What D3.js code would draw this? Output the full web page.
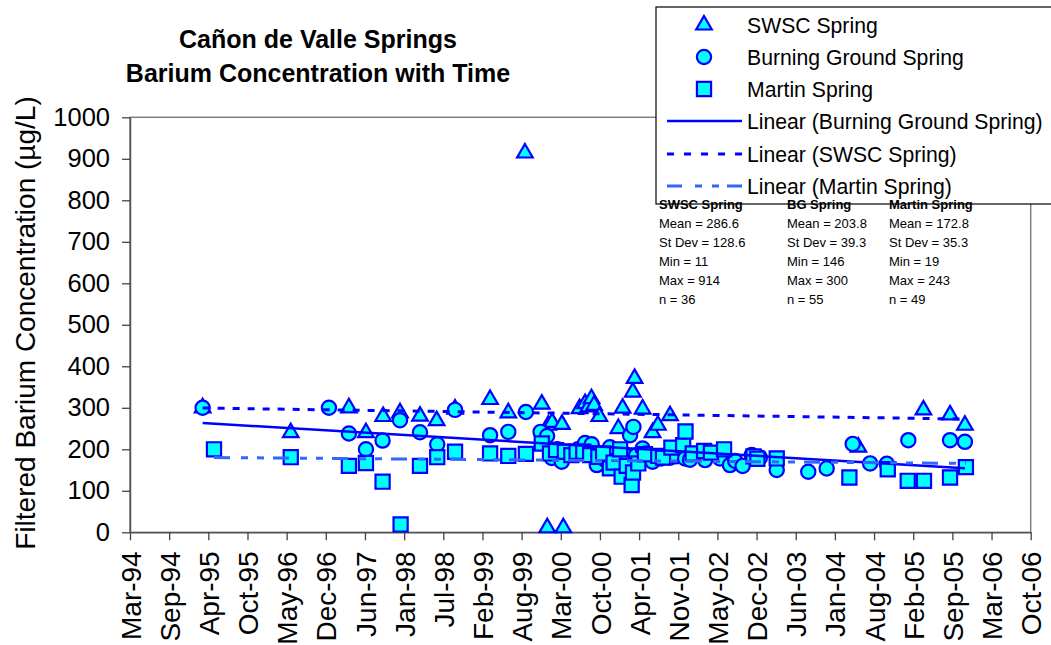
<!DOCTYPE html>
<html><head><meta charset="utf-8">
<script src="https://cdn.jsdelivr.net/npm/d3@7"></script>
<style>body{margin:0;background:#fff}svg{display:block;font-family:"Liberation Sans",Arial,sans-serif}</style>
</head><body><svg id="c" width="1051" height="645"></svg>
<script>
// ---------------- DATA ----------------
const titleLines = ["Cañon de Valle Springs", "Barium Concentration with Time"];
const yTitle = "Filtered Barium Concentration (µg/L)";
const tickLabels = ["Mar-94","Sep-94","Apr-95","Oct-95","May-96","Dec-96","Jun-97","Jan-98","Jul-98","Feb-99","Aug-99","Mar-00","Oct-00","Apr-01","Nov-01","May-02","Dec-02","Jun-03","Jan-04","Aug-04","Feb-05","Sep-05","Mar-06","Oct-06"];
const axisStart = "1994-03-08";
const tickStepDays = 200;
const yTicks = [0,100,200,300,400,500,600,700,800,900,1000];

const swscDates = ["1995-03-14","1996-06-06","1997-03-30","1997-06-25","1997-09-21","1997-12-16","1998-03-28","1998-06-21","1998-09-23","1999-03-21","1999-06-22","1999-09-15","1999-12-10","2000-01-07","2000-01-12","2000-02-01","2000-03-22","2000-03-29","2000-06-20","2000-07-18","2000-08-04","2000-08-20","2000-09-02","2000-09-29","2001-01-04","2001-01-26","2001-03-19","2001-03-28","2001-05-08","2001-06-28","2001-07-25","2001-09-25","2004-05-14","2005-04-11","2005-08-25","2005-11-09"];
const swscValues = [300,240,300,240,279,288,280,269,297,320,288,914,309,11,258,265,260,11,298,310,302,322,306,279,250,299,338,371,297,240,258,281,205,295,283,258];

const bgDates = ["1995-03-14","1996-12-18","1997-03-30","1997-06-25","1997-09-18","1997-12-16","1998-03-28","1998-06-24","1998-09-23","1999-03-21","1999-06-22","1999-09-20","1999-12-04","2000-01-06","2000-01-30","2000-02-27","2000-03-21","2000-05-09","2000-06-12","2000-07-18","2000-08-21","2000-09-03","2000-09-16","2000-10-02","2000-10-28","2000-11-22","2001-01-13","2001-01-30","2001-03-05","2001-03-22","2001-04-04","2001-05-08","2001-05-24","2001-06-28","2001-08-10","2001-09-25","2001-10-26","2001-12-11","2002-01-05","2002-03-23","2002-06-07","2002-07-28","2002-08-24","2002-10-01","2002-11-16","2002-12-28","2003-03-24","2003-09-01","2003-12-04","2004-04-15","2004-07-13","2004-10-06","2005-01-24","2005-08-25","2005-11-09"];
const bgValues = [300,300,238,200,221,270,241,212,295,234,242,290,242,232,179,200,170,190,200,215,212,190,162,185,175,205,172,190,234,254,185,202,190,170,178,180,183,178,175,174,178,162,172,160,186,180,150,146,154,213,166,165,222,222,218];

const martinDates = ["1995-05-11","1996-06-06","1997-03-30","1997-06-25","1997-09-18","1997-12-19","1998-03-28","1998-06-24","1998-09-23","1999-03-21","1999-06-22","1999-09-20","1999-12-10","2000-01-21","2000-02-21","2000-04-06","2000-05-09","2000-06-05","2000-07-09","2000-08-13","2000-09-24","2000-10-18","2000-11-22","2000-12-11","2001-01-13","2001-01-21","2001-02-16","2001-03-13","2001-03-20","2001-04-16","2001-05-20","2001-07-27","2001-08-20","2001-10-02","2001-12-01","2001-12-13","2002-01-19","2002-03-18","2002-04-22","2002-06-28","2002-11-25","2002-12-15","2003-03-24","2004-03-29","2004-10-11","2005-01-21","2005-04-14","2005-08-25","2005-11-14"];
const martinValues = [200,181,160,167,122,19,160,181,194,190,184,189,214,190,198,194,186,194,194,186,182,190,154,168,200,134,160,114,144,166,188,184,180,204,210,243,190,196,192,200,183,177,178,132,152,124,124,132,157];

const legendLabels = ["SWSC Spring","Burning Ground Spring","Martin Spring","Linear (Burning Ground Spring)","Linear (SWSC Spring)","Linear (Martin Spring)"];
const statsHeaders = ["SWSC Spring","BG Spring","Martin Spring"];
const statsLines = [
  ["Mean = 286.6","St Dev = 128.6","Min = 11","Max = 914","n = 36"],
  ["Mean = 203.8","St Dev = 39.3","Min = 146","Max = 300","n = 55"],
  ["Mean = 172.8","St Dev = 35.3","Min = 19","Max = 243","n = 49"]
];

// ---------------- CHART ----------------
const svg = d3.select("#c");
const L = 130, R = 1030.7, T = 117.3, B = 532.3;
const parse = d3.utcParse("%Y-%m-%d");
const t0 = parse(axisStart);
const tickDates = tickLabels.map((_, i) => d3.utcDay.offset(t0, i * tickStepDays));
const x = d3.scaleUtc().domain([tickDates[0], tickDates[tickDates.length - 1]]).range([L, R]);
const y = d3.scaleLinear().domain([0, 1000]).range([B, T]);

const FILL = "#00FFFF", STROKE = "#0000FF";

// plot frame
svg.append("rect").attr("x", L).attr("y", T).attr("width", R - L).attr("height", B - T)
  .attr("fill", "none").attr("stroke", "#808080").attr("stroke-width", 1.5);

// axes
const yAxis = svg.append("g").attr("transform", `translate(${L},0)`)
  .call(d3.axisLeft(y).tickValues(yTicks).tickFormat(d3.format("d")).tickSize(8).tickSizeOuter(0).tickPadding(12));
yAxis.selectAll("text").attr("font-size", 25.5).attr("fill", "#000").attr("font-family", "Liberation Sans, Arial, sans-serif");
const xAxis = svg.append("g").attr("transform", `translate(0,${B})`)
  .call(d3.axisBottom(x).tickValues(tickDates).tickFormat((d, i) => tickLabels[i]).tickSize(8).tickSizeOuter(0));
xAxis.selectAll("text")
  .attr("font-size", 28).attr("fill", "#000").attr("font-family", "Liberation Sans, Arial, sans-serif")
  .attr("text-anchor", "end").attr("transform", "translate(0,19) rotate(-90)")
  .attr("x", 0).attr("y", 0).attr("dy", "0.36em");
svg.selectAll(".domain").attr("stroke", "#555").attr("stroke-width", 1.5);
svg.selectAll(".tick line").attr("stroke", "#444").attr("stroke-width", 1.3);

// series
function pts(dates, vals) { return dates.map((d, i) => ({ t: parse(d), v: vals[i] })); }
const swsc = pts(swscDates, swscValues), bg = pts(bgDates, bgValues), martin = pts(martinDates, martinValues);

const symTri = d3.symbol(d3.symbolTriangle, 105);
const symCirc = d3.symbol(d3.symbolCircle, 160);
const symSq = d3.symbol(d3.symbolSquare, 200);

function drawMarkers(data, sym) {
  svg.append("g").selectAll("path").data(data).join("path")
    .attr("d", sym).attr("transform", d => `translate(${x(d.t)},${y(d.v)})`)
    .attr("fill", FILL).attr("stroke", STROKE).attr("stroke-width", 2.2);
}
drawMarkers(swsc, symTri);
drawMarkers(bg, symCirc);
drawMarkers(martin, symSq);

// linear trendlines (least squares over the data)
function trend(data) {
  const xs = data.map(d => +d.t), ys = data.map(d => d.v);
  const mx = d3.mean(xs), my = d3.mean(ys);
  let sxy = 0, sxx = 0;
  xs.forEach((xv, i) => { sxy += (xv - mx) * (ys[i] - my); sxx += (xv - mx) * (xv - mx); });
  const b = sxy / sxx, a = my - b * mx;
  const x1 = d3.min(xs), x2 = d3.max(xs);
  return [[x1, a + b * x1], [x2, a + b * x2]];
}
const line = d3.line().x(d => x(new Date(d[0]))).y(d => y(d[1]));
svg.append("path").attr("d", line(trend(bg))).attr("stroke", "#0000FF").attr("stroke-width", 2.5).attr("fill", "none");
svg.append("path").attr("d", line(trend(swsc))).attr("stroke", "#0000FF").attr("stroke-width", 3).attr("stroke-dasharray", "7,8").attr("fill", "none");
svg.append("path").attr("d", line(trend(martin))).attr("stroke", "#3366FF").attr("stroke-width", 3).attr("stroke-dasharray", "16,11,7,9,7,9").attr("fill", "none");

// legend
const lg = svg.append("g");
lg.append("rect").attr("x", 656).attr("y", 7).attr("width", 420).attr("height", 197)
  .attr("fill", "#fff").attr("stroke", "#000").attr("stroke-width", 1.2);
const rowY = [25, 57, 89, 121, 154, 186];
const syms = [symTri, symCirc, symSq];
legendLabels.forEach((lab, i) => {
  if (i < 3) {
    lg.append("path").attr("d", syms[i]).attr("transform", `translate(704,${rowY[i]})`)
      .attr("fill", FILL).attr("stroke", STROKE).attr("stroke-width", 2.2);
  } else {
    const st = [
      { c: "#0000FF", w: 2.5, da: null },
      { c: "#0000FF", w: 3, da: "7,10" },
      { c: "#3366FF", w: 3, da: "15,13,7,10,7,8" }][i - 3];
    const ln = lg.append("line").attr("x1", 667).attr("x2", 742).attr("y1", rowY[i]).attr("y2", rowY[i])
      .attr("stroke", st.c).attr("stroke-width", st.w);
    if (st.da) ln.attr("stroke-dasharray", st.da);
  }
  lg.append("text").attr("x", 747).attr("y", rowY[i] + 7.5).attr("font-size", 21.2).attr("fill", "#000").text(lab);
});

// stats text
const colX = [659, 787, 889];
statsHeaders.forEach((h, c) => {
  svg.append("text").attr("x", colX[c]).attr("y", 209).attr("font-size", 13).attr("font-weight", "bold").text(h);
  statsLines[c].forEach((s, r) => {
    svg.append("text").attr("x", colX[c]).attr("y", 227.5 + r * 19).attr("font-size", 13).text(s);
  });
});

// titles
titleLines.forEach((t, i) => {
  svg.append("text").attr("x", 318).attr("y", 48 + i * 34).attr("text-anchor", "middle")
    .attr("font-size", 25).attr("font-weight", "bold").text(t);
});
svg.append("text").attr("transform", "translate(35,323) rotate(-90)").attr("text-anchor", "middle")
  .attr("font-size", 28).text(yTitle);
</script></body></html>
